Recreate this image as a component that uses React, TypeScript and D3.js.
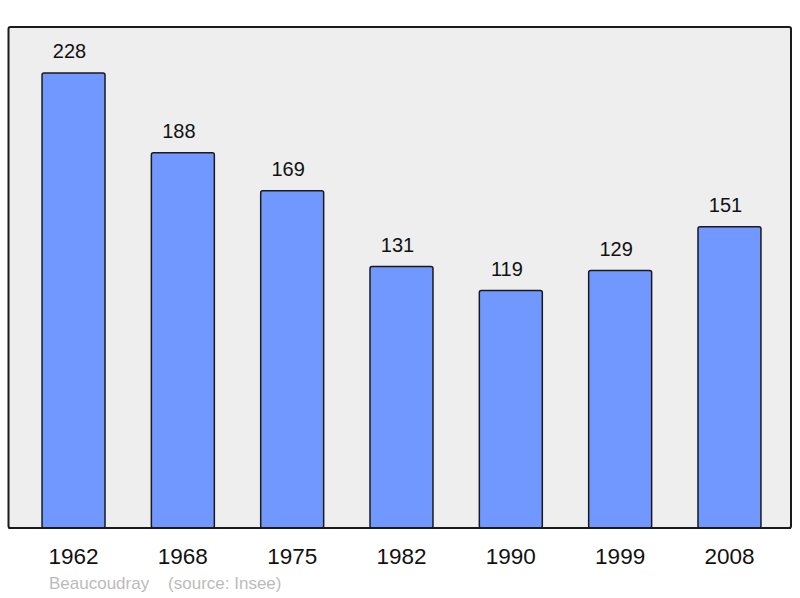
import React, { useEffect, useRef } from 'react';
import * as d3 from "d3";

const years = ["1962", "1968", "1975", "1982", "1990", "1999", "2008"];
const population = [228, 188, 169, 131, 119, 129, 151];
const townName = "Beaucoudray";
const sourceLabel = "(source: Insee)";

function App() {
  const ref = useRef<SVGSVGElement>(null);

  useEffect(() => {
    document.body.style.margin = "0";
    if (ref.current == null) return;
    const svg = d3.select(ref.current);
    svg.selectAll("*").remove();

    const width = 800, height = 598;
    const panel = { left: 8.5, top: 27, right: 791, bottom: 528 };

    // band range slightly offset so bars sit where the original ones are
    var x = d3.scaleBand<string>()
      .domain(years)
      .range([10.5, 792.5])
      .paddingInner(0.424)
      .paddingOuter(0.2885);

    var y = d3.scaleLinear()
      .domain([0, 228])
      .range([panel.bottom, 73]);

    svg.attr("width", width).attr("height", height);

    // background panel
    svg.append("rect")
      .attr("x", panel.left)
      .attr("y", panel.top)
      .attr("width", panel.right - panel.left)
      .attr("height", panel.bottom - panel.top)
      .attr("rx", 2)
      .attr("fill", "#eeeeee")
      .attr("stroke", "#1a1a1a")
      .attr("stroke-width", 2);

    const data = years.map((yr, i) => ({ year: yr, value: population[i] }));

    svg.append("g")
      .selectAll("rect")
      .data(data)
      .enter()
      .append("rect")
      .attr("x", d => x(d.year) as number)
      .attr("y", d => y(d.value))
      .attr("width", x.bandwidth())
      .attr("height", d => panel.bottom - y(d.value))
      .attr("rx", 2)
      .attr("fill", "#7098ff")
      .attr("stroke", "#1a1a1a")
      .attr("stroke-width", 1.5);

    // redraw bottom border above bars
    svg.append("line")
      .attr("x1", panel.left)
      .attr("x2", panel.right)
      .attr("y1", panel.bottom)
      .attr("y2", panel.bottom)
      .attr("stroke", "#1a1a1a")
      .attr("stroke-width", 2);

    // value labels
    svg.append("g")
      .selectAll("text")
      .data(data)
      .enter()
      .append("text")
      .attr("x", d => (x(d.year) as number) + x.bandwidth() / 2 - 4)
      .attr("y", d => y(d.value) - 15)
      .attr("text-anchor", "middle")
      .attr("font-family", "Liberation Sans, Arial, sans-serif")
      .attr("font-size", "20px")
      .attr("fill", "#111")
      .text(d => d.value);

    // year labels
    svg.append("g")
      .selectAll("text")
      .data(years)
      .enter()
      .append("text")
      .attr("x", d => (x(d) as number) + x.bandwidth() / 2)
      .attr("y", 564)
      .attr("text-anchor", "middle")
      .attr("font-family", "Liberation Sans, Arial, sans-serif")
      .attr("font-size", "22.5px")
      .attr("fill", "#111")
      .text(d => d);

    svg.append("text")
      .attr("x", 49)
      .attr("y", 589)
      .attr("font-family", "Liberation Sans, Arial, sans-serif")
      .attr("font-size", "17px")
      .attr("fill", "#bbbbbb")
      .attr("xml:space", "preserve")
      .text(townName + "    " + sourceLabel);
  }, []);

  return (<svg ref={ref} style={{ display: "block" }}></svg>);
}

export default App;
